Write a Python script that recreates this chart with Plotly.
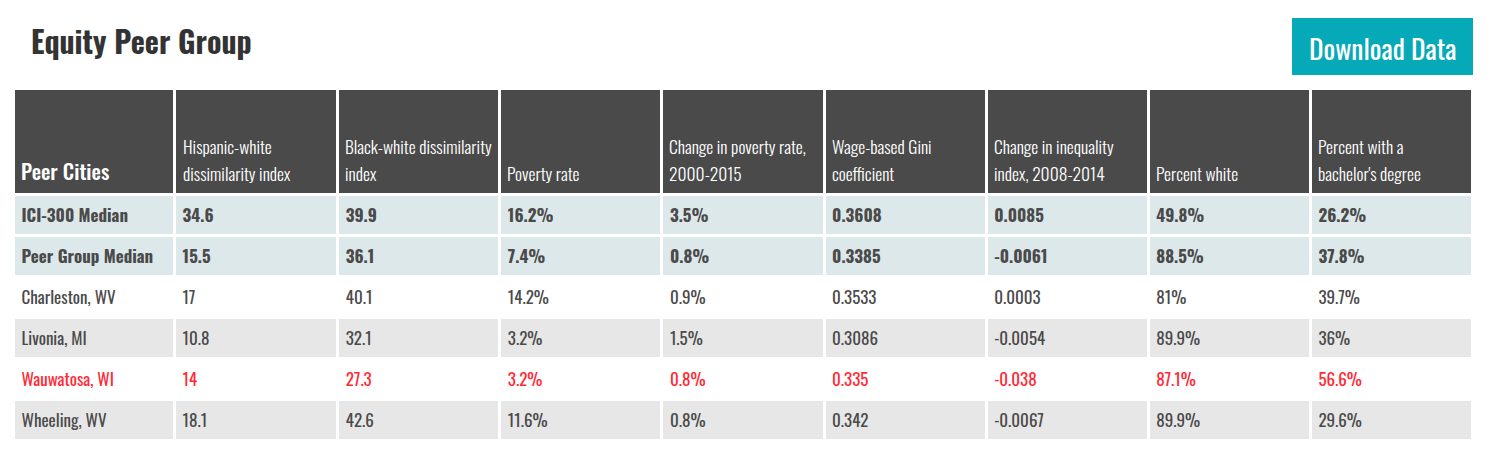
import plotly.graph_objects as go

# the page body has an 8 px margin, so the figure is 16 px smaller than the window
W = 1478
H = 450
OFF = 8
FONT = "Oswald"
DARK = "#4a4a4a"
TEAL = "#05a9b8"
PALE = "#dde8ea"
GREY = "#e7e7e7"
RED = "#ff2a36"

headers = ["Peer Cities",
           "Hispanic-white<br>dissimilarity index",
           "Black-white dissimilarity<br>index",
           "Poverty rate",
           "Change in poverty rate,<br>2000-2015",
           "Wage-based Gini<br>coefficient",
           "Change in inequality<br>index, 2008-2014",
           "Percent white",
           "Percent with a<br>bachelor's degree"]

cities = ["ICI-300 Median", "Peer Group Median", "Charleston, WV", "Livonia, MI", "Wauwatosa, WI", "Wheeling, WV"]
hispanic_white = ["34.6", "15.5", "17", "10.8", "14", "18.1"]
black_white = ["39.9", "36.1", "40.1", "32.1", "27.3", "42.6"]
poverty = ["16.2%", "7.4%", "14.2%", "3.2%", "3.2%", "11.6%"]
poverty_change = ["3.5%", "0.8%", "0.9%", "1.5%", "0.8%", "0.8%"]
gini = ["0.3608", "0.3385", "0.3533", "0.3086", "0.335", "0.342"]
inequality_change = ["0.0085", "-0.0061", "0.0003", "-0.0054", "-0.038", "-0.0067"]
pct_white = ["49.8%", "88.5%", "81%", "89.9%", "87.1%", "89.9%"]
pct_bachelor = ["26.2%", "37.8%", "39.7%", "36%", "56.6%", "29.6%"]

columns = [cities, hispanic_white, black_white, poverty, poverty_change,
           gini, inequality_change, pct_white, pct_bachelor]
widths = [161, 163, 162, 162, 162, 162, 162, 162, 162]
header_x = [21, 183, 345, 507, 669, 832, 994, 1156, 1318]

row_fill = [PALE, PALE, "white", GREY, "white", GREY]
row_font = [DARK, DARK, DARK, DARK, RED, DARK]


def cell_text(values):
    # same markup on every row so plotly places them all the same way
    return [f"<b>{v}</b>" if i < 2 else f"<span>{v}</span>" for i, v in enumerate(values)]


def px_x(x):
    return (x - OFF) / W


def px_y(y):
    return 1 - (y - OFF) / H


fig = go.Figure(go.Table(
    domain=dict(x=[px_x(13.5), px_x(1472.5)], y=[0, px_y(88.5)]),
    columnwidth=widths,
    header=dict(
        # header text goes on as annotations, table cells can't sit text at the bottom
        values=[""] * 9,
        fill_color=DARK,
        line=dict(color="white", width=3),
        height=105.5,
    ),
    cells=dict(
        values=[cell_text(c) for c in columns],
        fill_color=[row_fill] * 9,
        line=dict(color="white", width=3),
        # anything bigger than 17 makes the rows grow past 41 px
        font=dict(family=FONT, color=[row_font] * 9, size=17, weight=400),
        align="left",
        height=40.8,
    ),
))

for i, (text, x) in enumerate(zip(headers, header_x)):
    size = 21 if i == 0 else 17.5
    body = "<br>".join(f'<span style="font-size:{size}px">{t}</span>' for t in text.split("<br>"))
    fig.add_annotation(x=px_x(x - 2), y=px_y(188), xref="paper", yref="paper", showarrow=False,
                       xanchor="left", yanchor="bottom", align="left", text=body,
                       font=dict(family=FONT, size=21, color="white", weight=500 if i == 0 else 300))

fig.add_shape(type="rect", xref="paper", yref="paper", line_width=0, fillcolor=TEAL,
              x0=px_x(1292), x1=px_x(1473), y0=px_y(75), y1=px_y(18))
fig.add_annotation(x=px_x(1382.5), y=px_y(47), xref="paper", yref="paper", showarrow=False,
                   xanchor="center", yanchor="middle",
                   text="Download Data", font=dict(family=FONT, size=27.5, color="white"))
fig.add_annotation(x=px_x(29), y=px_y(40), xref="paper", yref="paper", showarrow=False,
                   xanchor="left", yanchor="middle", text="<b>Equity Peer Group</b>",
                   font=dict(family=FONT, size=30, color="#333333"))

fig.update_layout(width=W, height=H, margin=dict(l=0, r=0, t=0, b=0),
                  paper_bgcolor="white")
fig.write_html("out.html")
